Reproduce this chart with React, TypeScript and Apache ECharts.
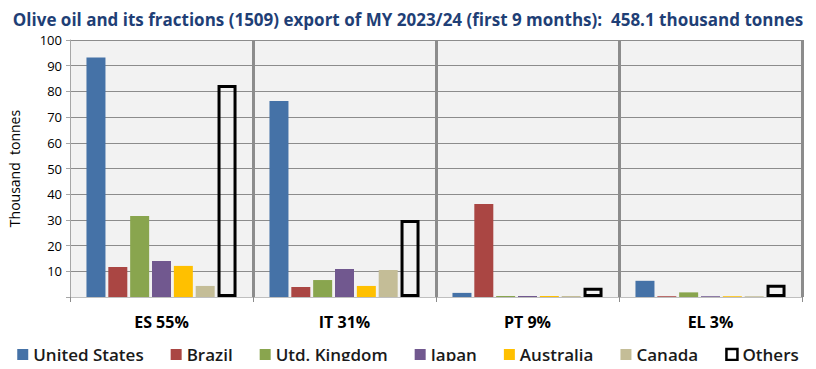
import React, { useEffect, useRef } from "react";
import * as echarts from "echarts";

const title = "Olive oil and its fractions (1509) export of MY 2023/24 (first 9 months):  458.1 thousand tonnes";
const categories = ["ES 55%", "IT 31%", "PT 9%", "EL 3%"];
const seriesNames = ["United States", "Brazil", "Utd. Kingdom", "Japan", "Australia", "Canada", "Others"];
const colors = ["#4572A7", "#AA4643", "#89A54E", "#71588F", "#FFC000", "#C4BD97", "#000000"];
const unitedStates = [93.2, 76.3, 1.6, 6.3];
const brazil = [11.7, 3.9, 36.2, 0.3];
const ukingdom = [31.5, 6.6, 0.4, 1.8];
const japan = [14.0, 10.9, 0.4, 0.3];
const australia = [12.1, 4.3, 0.4, 0.3];
const canada = [4.3, 10.5, 0.4, 0.3];
const others = [82.5, 30.0, 3.6, 4.8];
const yTicks = [0, 10, 20, 30, 40, 50, 60, 70, 80, 90, 100];

const FONT = "'Open Sans', 'Noto Sans', sans-serif";

export default function App() {
  const ref = useRef<HTMLDivElement>(null);
  useEffect(() => {
    if (!ref.current) return;
    const chart = echarts.init(ref.current, undefined, { renderer: "svg" });
    const values = [unitedStates, brazil, ukingdom, japan, australia, canada, others];
    const series: any[] = values.map((v, i) => {
      const isOthers = i === 6;
      return {
        name: seriesNames[i],
        type: "bar",
        data: v,
        barGap: "15%",
        barCategoryGap: "18%",
        itemStyle: isOthers
          ? { color: "transparent", borderColor: "#000", borderWidth: 3 }
          : { color: colors[i] },
      };
    });
    chart.setOption({
      animation: false,
      backgroundColor: "#ffffff",
      textStyle: { fontFamily: FONT },
      title: {
        text: title,
        left: "center",
        top: 6,
        textStyle: { fontFamily: FONT, fontSize: 17, fontWeight: "bold", color: "#1F3F76" },
      },
      legend: {
        data: seriesNames.map((n, i) =>
          i === 6
            ? { name: n, itemStyle: { color: "#ffffff", borderColor: "#000", borderWidth: 2.5 } }
            : { name: n }
        ),
        left: "center",
        top: 341,
        icon: "rect",
        itemWidth: 11,
        itemHeight: 11,
        itemGap: 27,
        textStyle: { fontFamily: FONT, fontSize: 17, fontWeight: 600, color: "#1a1a1a" },
      },
      grid: {
        left: 70,
        right: 14,
        top: 40,
        bottom: 72,
        show: true,
        backgroundColor: "#F2F2F2",
        borderWidth: 0,
        containLabel: false,
        outerBoundsMode: "none",
      },
      xAxis: {
        type: "category",
        data: categories,
        axisLine: { show: true, lineStyle: { color: "#BFBFBF", width: 1 } },
        axisTick: { show: true, length: 5, lineStyle: { color: "#8C8C8C" } },
        axisLabel: { fontFamily: FONT, fontSize: 16, fontWeight: "bold", color: "#000", margin: 17 },
        splitLine: {
          show: true,
          interval: (index: number) => index !== 0,
          lineStyle: { color: "#8C8C8C", width: 3 },
        },
      },
      yAxis: {
        type: "value",
        min: yTicks[0],
        max: yTicks[yTicks.length - 1],
        interval: 10,
        name: "Thousand  tonnes",
        nameLocation: "middle",
        nameGap: 49,
        nameTextStyle: { fontFamily: FONT, fontSize: 14, color: "#000" },
        axisLine: { show: true, lineStyle: { color: "#A6A6A6", width: 1 } },
        axisTick: { show: true, length: 4, lineStyle: { color: "#A6A6A6" } },
        axisLabel: {
          fontFamily: FONT,
          fontSize: 13,
          color: "#000",
          margin: 8,
          formatter: (v: number) => (v === 0 ? "" : String(v)),
        },
        splitLine: { show: true, lineStyle: { color: "#8C8C8C", width: 1.2 } },
      },
      series,
    });
    return () => chart.dispose();
  }, []);
  return <div ref={ref} style={{ width: 816, height: 369, margin: -8 }} />;
}
